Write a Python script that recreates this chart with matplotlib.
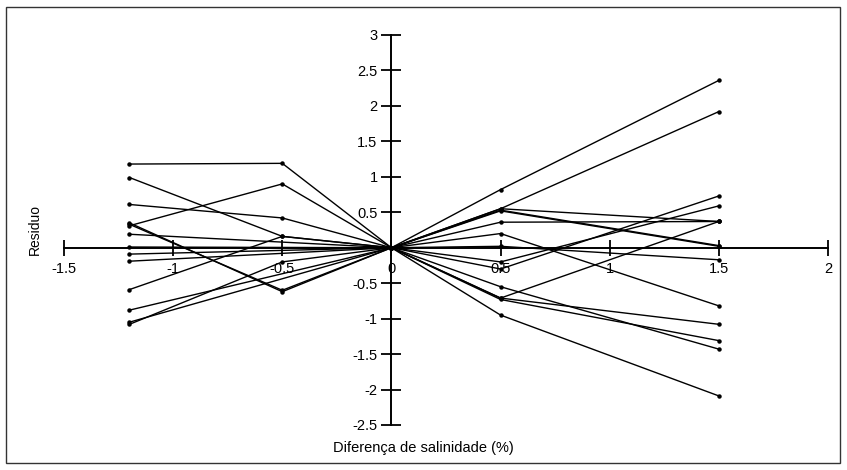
import numpy as np
import matplotlib
matplotlib.use("Agg")
import matplotlib.pyplot as plt
from matplotlib.patches import Rectangle

plt.rcParams["font.family"] = ["Liberation Sans", "DejaVu Sans"]
plt.rcParams["axes.unicode_minus"] = False

# salinity differences (%) where residuals were computed
x_left = np.array([-1.2, -0.5, 0.0])
x_right = np.array([0.0, 0.5, 1.5])

# residuals for the negative side (nan = no point at that salinity)
left_res = [
    [1.18, 1.19, 0.0],
    [0.99, 0.16, 0.0],
    [0.61, 0.42, 0.0],
    [0.31, 0.90, 0.0],
    [0.35, -0.62, 0.0],
    [0.33, -0.60, 0.0],
    [0.19, np.nan, 0.0],
    [0.01, np.nan, 0.0],
    [-0.09, np.nan, 0.0],
    [-0.19, np.nan, 0.0],
    [-0.59, 0.16, 0.0],
    [-0.88, np.nan, 0.0],
    [-1.05, np.nan, 0.0],
    [-1.08, -0.20, 0.0],
]

# residuals for the positive side
right_res = [
    [0.0, 0.82, 2.36],
    [0.0, 0.55, 1.92],
    [0.0, 0.55, 0.37],
    [0.0, 0.53, 0.03],
    [0.0, 0.52, 0.02],
    [0.0, 0.36, 0.37],
    [0.0, 0.20, -0.82],
    [0.0, 0.02, -0.17],
    [0.0, -0.30, 0.73],
    [0.0, -0.20, 0.59],
    [0.0, -0.71, 0.37],
    [0.0, -0.71, -1.08],
    [0.0, -0.73, -1.31],
    [0.0, -0.55, -1.43],
    [0.0, -0.95, -2.09],
]

x_ticks = [-1.5, -1, -0.5, 0, 0.5, 1, 1.5, 2]
x_labels = ["-1.5", "-1", "-0.5", "0", "0.5", "1", "1.5", "2"]
y_ticks = [-2.5, -2, -1.5, -1, -0.5, 0.5, 1, 1.5, 2, 2.5, 3]
y_labels = ["-2.5", "-2", "-1.5", "-1", "-0.5", "0.5", "1", "1.5", "2", "2.5", "3"]

fig = plt.figure(figsize=(8.47, 4.70), dpi=100)
ax = fig.add_axes([64 / 847, 45 / 470, 764 / 847, 390 / 470])


def draw_series(xs, rows):
    for row in rows:
        v = np.array(row, dtype=float)
        ok = ~np.isnan(v)
        ax.plot(xs[ok], v[ok], color="black", lw=1.0, marker="o", ms=2.2,
                mfc="black", mec="black", zorder=3)


draw_series(x_left, left_res)
draw_series(x_right, right_res)

ax.set_xlim(-1.5, 2)
ax.set_ylim(-2.5, 3)

# axes cross at the origin
ax.spines["left"].set_position(("data", 0))
ax.spines["bottom"].set_position(("data", 0))
ax.spines["top"].set_visible(False)
ax.spines["right"].set_visible(False)
for s in ("left", "bottom"):
    ax.spines[s].set_linewidth(1.4)

ax.set_xticks(x_ticks)
ax.set_xticklabels(x_labels)
ax.set_yticks(y_ticks)
ax.set_yticklabels(y_labels)
ax.tick_params(axis="x", direction="inout", length=11, width=1.3, pad=5, labelsize=10.5)
ax.tick_params(axis="y", direction="inout", length=14, width=1.3, pad=3, labelsize=10.5)
ax.patch.set_visible(False)

fig.text(35 / 847, 1 - 230 / 470, "Residuo", rotation=90, ha="center", va="center", fontsize=10)
fig.text(423 / 847, 1 - 448 / 470, "Diferença de salinidade (%)", ha="center", va="center", fontsize=10.5)

# frame around the chart
fig.patches.append(Rectangle((6 / 847, 7 / 470), 834 / 847, 456 / 470, transform=fig.transFigure,
                             fill=False, edgecolor="#333333", lw=1.0))

fig.savefig("out.png", dpi=100)
